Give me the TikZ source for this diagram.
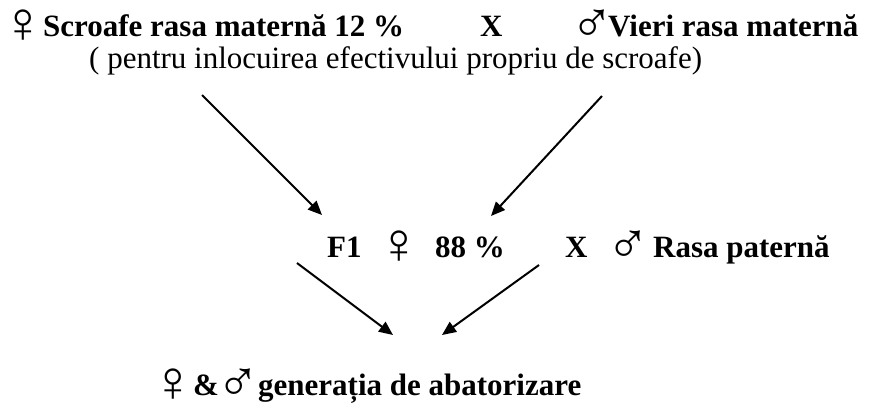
\documentclass[tikz,border=0pt]{standalone}
\usepackage{fontspec}
\setmainfont{Liberation Serif}
\usetikzlibrary{arrows.meta}
\begin{document}
\begin{tikzpicture}[x=1pt,y=-1pt,
  txt/.style={anchor=base west, inner sep=0pt, font=\fontsize{31}{31}\selectfont\bfseries},
  reg/.style={anchor=base west, inner sep=0pt, font=\fontsize{31}{31}\selectfont},
  sym/.style={anchor=base west, inner sep=0pt, text height=34pt, text depth=2pt, font=\fontsize{58}{58}\selectfont\mdseries},
  arr/.style={line width=2pt, -{Triangle[length=14pt,width=12pt]}}]
\useasboundingbox[fill=white] (0,0) rectangle (876,408);
% line 1
\node[sym] (fem1) at (1,42) {♀};
\node[txt] (sow) at (43,36) {Scroafe rasa maternă 12 \%};
\node[txt] (x1) at (480,36) {X};
\node[sym] (mal1) at (570,42) {♂};
\node[txt] (boar) at (608,36) {Vieri rasa maternă};
\node[reg] (note) at (89,68) {( pentru inlocuirea efectivului propriu de scroafe)};
% line 3
\node[txt] (f1) at (327,257) {F1};
\node[sym] (fem2) at (377,263) {♀};
\node[txt] (pct) at (435,257) {88 \%};
\node[txt] (x2) at (565,257) {X};
\node[sym] (mal2) at (606,263) {♂};
\node[txt] (pat) at (653,257) {Rasa paternă};
% line 4
\node[sym] (fem3) at (151,401) {♀};
\node[txt] (amp) at (193,395) {\&};
\node[sym] (mal3) at (216,401) {♂};
\node[txt] (gen) at (258,395) {generația de abatorizare};
% arrow ends
\coordinate (a1s) at (202,95);  \coordinate (a1e) at (322,215);
\coordinate (a2s) at (602,96);  \coordinate (a2e) at (491,216);
\coordinate (a3s) at (297,263); \coordinate (a3e) at (393,335);
\coordinate (a4s) at (539,265); \coordinate (a4e) at (442,335);
\draw[arr] (a1s) -- (a1e);
\draw[arr] (a2s) -- (a2e);
\draw[arr] (a3s) -- (a3e);
\draw[arr] (a4s) -- (a4e);
\end{tikzpicture}
\end{document}
